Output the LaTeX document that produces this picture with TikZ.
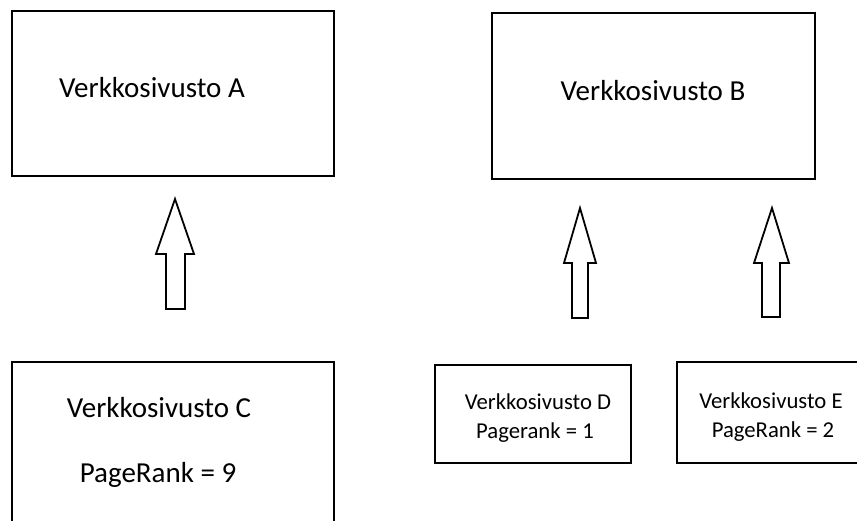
\documentclass[tikz,border=0pt]{standalone}
\usepackage{fontspec}
\setmainfont{Carlito}
\begin{document}
\begin{tikzpicture}[x=1pt,y=-1pt,
  box/.style={draw=black,line width=2.2pt},
  big/.style={font=\fontsize{29}{34}\selectfont,inner sep=0pt,anchor=center},
  small/.style={font=\fontsize{22.7}{27}\selectfont,inner sep=0pt,anchor=center},
  blockarrow/.style={draw=black,line width=1.8pt,fill=white,line join=miter}]
\useasboundingbox (0,0) rectangle (857,521);
\fill[white] (0,0) rectangle (857,521);
\clip (0,0) rectangle (857,521);
% boxes
\node[box,minimum width=322pt,minimum height=165pt,inner sep=0pt] (A) at (173,93.5) {};
\node[box,minimum width=323pt,minimum height=166pt,inner sep=0pt] (B) at (653.5,96) {};
\node[box,minimum width=322pt,minimum height=180pt,inner sep=0pt] (C) at (173,452) {};
\node[box,minimum width=196pt,minimum height=98pt,inner sep=0pt] (D) at (533,414) {};
\node[box,minimum width=200pt,minimum height=101pt,inner sep=0pt] (E) at (777,412.5) {};
% texts
\node[big] (tA) at (152,88) {Verkkosivusto A};
\node[big] (tB) at (653,91) {Verkkosivusto B};
\node[big] (tC1) at (159,408) {Verkkosivusto C};
\node[big] (tC2) at (158,475) {PageRank = 9};
\node[small] (tD1) at (538,402) {Verkkosivusto D};
\node[small] (tD2) at (535,433) {Pagerank = 1};
\node[small] (tE1) at (771,401) {Verkkosivusto E};
\node[small] (tE2) at (773,432) {PageRank = 2};
% block arrows
\draw[blockarrow] (175,199) -- (194,254) -- (185,254) -- (185,309) -- (166,309) -- (166,254) -- (156,254) -- cycle;
\draw[blockarrow] (580,208) -- (596,263) -- (588,263) -- (588,318) -- (572,318) -- (572,263) -- (564,263) -- cycle;
\draw[blockarrow] (772,208) -- (789,263) -- (780,263) -- (780,317) -- (762,317) -- (762,263) -- (754,263) -- cycle;
\end{tikzpicture}
\end{document}
